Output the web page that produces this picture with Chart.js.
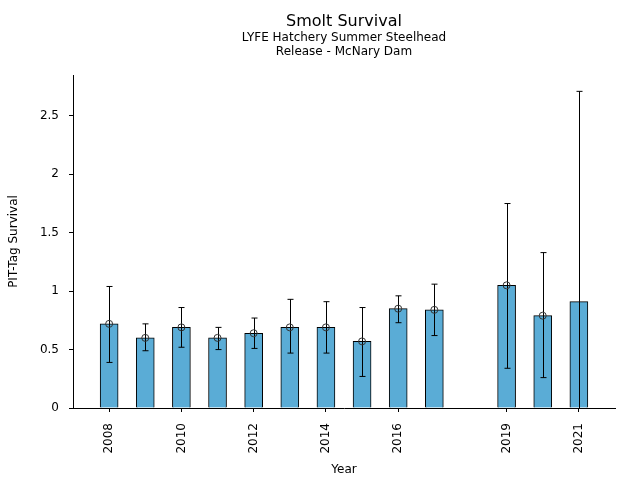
<!DOCTYPE html>
<html>
<head>
<meta charset="utf-8">
<script src="https://cdn.jsdelivr.net/npm/chart.js@4"></script>
<style>
  html, body { margin: 0; padding: 0; background: #fff; }
</style>
</head>
<body>
<canvas id="chart" width="640" height="480"></canvas>
<script>
"use strict";
//---------------- data ------------------------------------
const years = [2008, 2009, 2010, 2011, 2012, 2013, 2014, 2015, 2016, 2017, 2019, 2020, 2021];
const survival = [0.72, 0.60, 0.69, 0.60, 0.64, 0.69, 0.69, 0.57, 0.85, 0.84, 1.05, 0.79, 0.91];
const upperCI = [1.04, 0.72, 0.86, 0.69, 0.77, 0.93, 0.91, 0.86, 0.96, 1.06, 1.75, 1.33, 2.71];
const lowerCI = [0.39, 0.49, 0.52, 0.50, 0.51, 0.47, 0.47, 0.27, 0.73, 0.62, 0.34, 0.26, -0.90];
// point estimate markers (none drawn for 2021)
const markers = [0.72, 0.60, 0.69, 0.60, 0.64, 0.69, 0.69, 0.57, 0.85, 0.84, 1.05, 0.79, null];
const xTicks = [2008, 2010, 2012, 2014, 2016, 2019, 2021];
const yTicks = [0, 0.5, 1, 1.5, 2, 2.5];

const titleLines = ["Smolt Survival", "LYFE Hatchery Summer Steelhead", "Release - McNary Dam"];

Chart.defaults.font.family = "'DejaVu Sans', sans-serif";
Chart.defaults.color = "#000";

//---------------- plugins ---------------------------------
// error bars drawn right after the bars
const errorBars = {
  id: "errorBars",
  afterDatasetDraw(chart, args) {
    if (args.index !== 0) return;
    const ctx = chart.ctx;
    const xs = chart.scales.x;
    const ys = chart.scales.y;
    const area = chart.chartArea;
    ctx.save();
    ctx.beginPath();
    ctx.rect(area.left, area.top, area.right - area.left, area.bottom - area.top);
    ctx.clip();
    ctx.strokeStyle = "#000";
    ctx.lineWidth = 1;
    for (let i = 0; i < years.length; i++) {
      let x = Math.round(xs.getPixelForValue(years[i])) + 0.5;
      let top = ys.getPixelForValue(upperCI[i]);
      let bot = ys.getPixelForValue(lowerCI[i]);
      ctx.beginPath();
      ctx.moveTo(x, top);
      ctx.lineTo(x, bot);
      ctx.moveTo(x - 3, top);
      ctx.lineTo(x + 3, top);
      ctx.moveTo(x - 3, bot);
      ctx.lineTo(x + 3, bot);
      ctx.stroke();
    }
    ctx.restore();
  }
};

// title + subtitles centred over the plot area
const titles = {
  id: "titles",
  afterDraw(chart) {
    const ctx = chart.ctx;
    const area = chart.chartArea;
    let cx = (area.left + area.right) / 2;
    ctx.save();
    ctx.fillStyle = "#000";
    ctx.textAlign = "center";
    ctx.textBaseline = "middle";
    ctx.font = "16px 'DejaVu Sans'";
    ctx.fillText(titleLines[0], cx, 22);
    ctx.font = "12px 'DejaVu Sans'";
    ctx.fillText(titleLines[1], cx, 38);
    ctx.fillText(titleLines[2], cx, 52);
    ctx.restore();
  }
};

//---------------- chart -----------------------------------
new Chart(document.getElementById("chart"), {
  type: "bar",
  data: {
    datasets: [{
      type: "bar",
      data: years.map((y, i) => ({ x: y, y: survival[i] })),
      backgroundColor: "#5aacd6",
      borderColor: "#000",
      borderWidth: 1,
      barThickness: 18,
      order: 2
    }, {
      type: "scatter",
      data: years.map((y, i) => ({ x: y, y: markers[i] })),
      pointStyle: "circle",
      pointRadius: 3.5,
      pointBackgroundColor: "rgba(0,0,0,0)",
      pointBorderColor: "#333",
      pointBorderWidth: 1,
      order: 1
    }]
  },
  options: {
    responsive: false,
    animation: false,
    devicePixelRatio: 1,
    layout: { padding: { top: 75, right: 25, left: 0, bottom: 0 } },
    plugins: {
      legend: { display: false },
      tooltip: { enabled: false }
    },
    scales: {
      x: {
        type: "linear",
        min: 2007,
        max: 2022,
        offset: false,
        grid: { offset: false, drawOnChartArea: false, drawTicks: true, tickLength: 4, color: "#000" },
        border: { display: true, color: "#000", width: 1 },
        ticks: { minRotation: 90, maxRotation: 90, padding: 11, font: { size: 12 },
          callback: v => String(v) },
        afterBuildTicks: s => { s.ticks = xTicks.map(v => ({ value: v })); },
        afterFit: s => { s.height = 72; },
        title: { display: true, text: "Year", font: { size: 12 }, padding: { top: 4, bottom: 3 } }
      },
      y: {
        min: 0,
        max: 2.85,
        grid: { drawOnChartArea: false, drawTicks: true, tickLength: 4, color: "#000" },
        border: { display: true, color: "#000", width: 1 },
        ticks: { padding: 10, font: { size: 12 }, callback: v => String(v) },
        afterBuildTicks: s => { s.ticks = yTicks.map(v => ({ value: v })); },
        afterFit: s => { s.width = 73; },
        title: { display: true, text: "PIT-Tag Survival", font: { size: 12 }, padding: { top: 7, bottom: 4 } }
      }
    }
  },
  plugins: [errorBars, titles]
});
</script>
</body>
</html>
